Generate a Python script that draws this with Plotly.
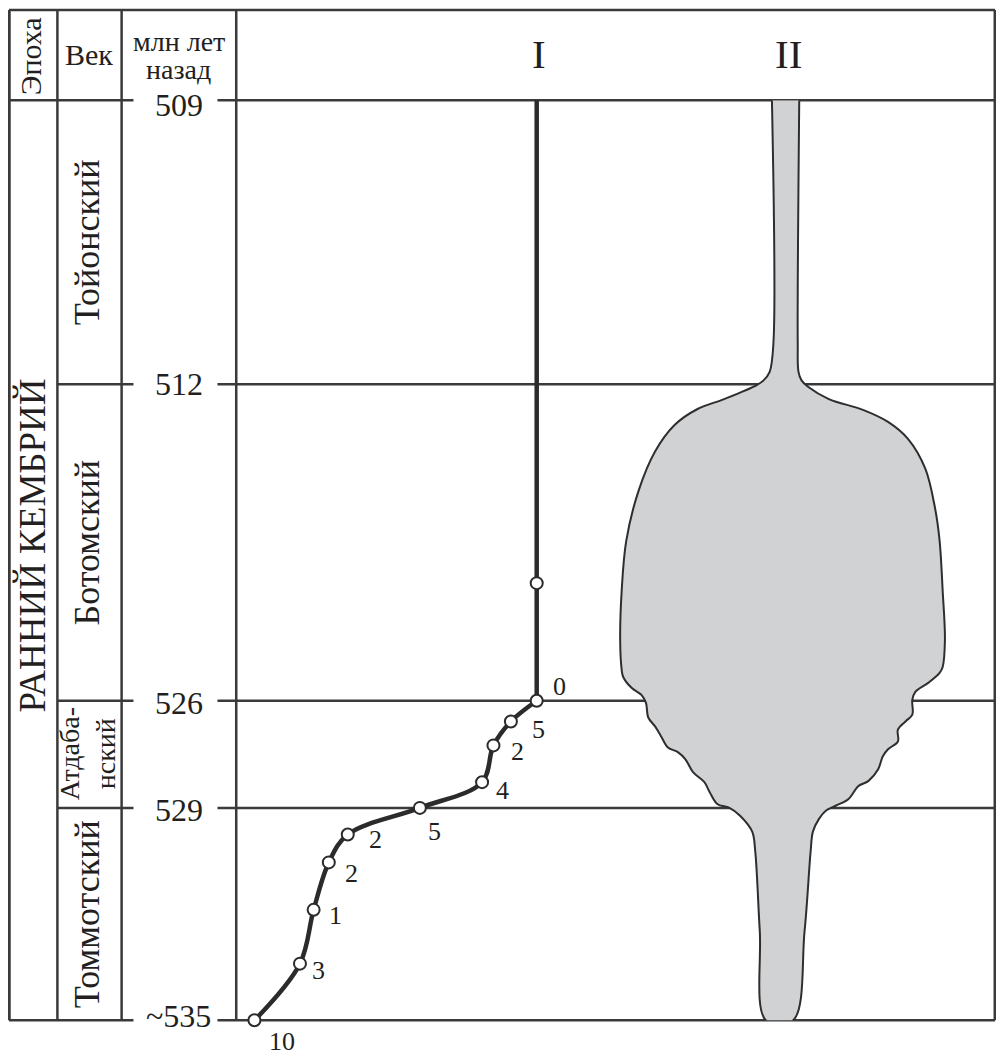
"""Early Cambrian stratigraphic chart: curve I and spindle diagram II."""

import numpy as np
import plotly.graph_objects as go

# --- data -------------------------------------------------------------------
bound_ages = [509, 512, 526, 529, 535]
bound_labels = ["509", "512", "526", "529", "~535"]
stage_names = ["Тойонский", "Ботомский", "Атдаба-<br>нский", "Томмотский"]
epoch_name = "РАННИЙ КЕМБРИЙ"
header_cols = ["Эпоха", "Век", "млн лет", "назад"]
panel_names = ["I", "II"]

# curve I (age, value) with point labels
curve_age = [526.0, 526.58, 527.25, 528.28, 529.0, 529.75, 530.54, 531.88, 533.4, 535.0]
curve_val = [39.6, 36.2, 33.9, 32.4, 24.2, 14.7, 12.2, 10.2, 8.4, 2.4]
curve_labels = ["0", "5", "2", "4", "5", "2", "2", "1", "3", "10"]
stem_age = [509.0, 520.8, 526.0]
stem_val = [39.6, 39.6, 39.6]

# spindle II, left and right outline (age, value)
left_age = [509.0, 511.56, 511.87, 511.96, 512.04, 512.66, 513.10, 513.80, 514.98,
            516.74, 518.93, 521.13, 523.32, 524.64, 524.95, 525.43, 525.74, 526.06,
            526.47, 526.72, 527.0, 527.31, 527.44, 527.64, 528.0, 528.28, 528.56,
            528.89, 529.0, 529.22, 529.67, 530.23, 532.48, 535.0]
left_val = [70.6, 70.8, 70.3, 69.5, 68.6, 64.3, 60.8, 57.8, 55.2,
            53.0, 51.4, 50.8, 50.6, 50.8, 51.0, 52.1, 53.4, 54.0,
            54.3, 55.2, 56.0, 56.9, 58.2, 59.2, 60.2, 61.7, 62.4,
            63.4, 65.0, 66.4, 68.0, 68.4, 69.0, 69.8]
right_age = [509.0, 511.56, 511.87, 511.96, 512.13, 512.66, 513.14, 513.67, 514.41,
             515.73, 517.49, 518.93, 521.13, 523.32, 524.51, 524.77, 525.21, 525.61,
             525.96, 526.39, 526.58, 526.81, 527.14, 527.36, 527.56, 527.92, 528.25,
             528.39, 528.75, 528.94, 529.08, 529.31, 529.67, 530.23, 532.48, 535.0]
right_val = [74.2, 74.0, 74.1, 74.5, 75.4, 78.1, 82.6, 85.9, 88.5,
             90.8, 92.1, 92.7, 93.1, 93.4, 93.1, 92.7, 91.2, 89.5,
             89.1, 89.1, 88.2, 87.2, 87.2, 85.9, 85.2, 84.6, 83.3,
             82.0, 80.7, 79.0, 77.7, 76.8, 76.0, 75.7, 74.9, 73.4]

# --- layout constants ---------------------------------------------------------
# the page puts the figure 8px in from the corner (and keeps 8px on the far
# side), so the drawing is laid out in page pixels and squeezed into 988x1048
W, H = 988, 1048
SX, SY = 0.988, 1048 / 1056
X_LEFT, X_EPOCH, X_STAGE, X_AGE, X_RIGHT = 3, 52, 117, 233, 1001
Y_TOP = 5
STAGE_Y = [96, 382, 701, 809, 1023]  # drawn position of each boundary
LINE = "#3a3a3a"
INK = "#231f20"
FONT = "Liberation Serif"

# offsets of the curve I labels from their points (px, right / down)
label_shift = [(23, -14), (28, 8), (24, 6), (20, 8), (15, 24),
               (28, 5), (23, 11), (22, 6), (19, 7), (28, 21)]


def ypos(ages):
    return np.interp(ages, bound_ages, STAGE_Y)


def fx(x):
    return (x - 2) * SX / W


def fy(y):
    return 1 - (y - 3) * SY / H


def label(x, y, text, size, angle=0, **kw):
    fig.add_annotation(
        x=x, y=y, text=text, textangle=angle, showarrow=False,
        xanchor="center", yanchor="middle",
        font=dict(family=FONT, size=size, color=INK), **kw,
    )


fig = go.Figure()

# spindle II
sp_val = left_val + right_val[::-1]
sp_age = left_age + right_age[::-1]
fig.add_trace(
    go.Scatter(
        x=sp_val,
        y=ypos(sp_age),
        mode="lines",
        fill="toself",
        fillcolor="#d1d2d4",
        line=dict(color="#2e2e2e", width=2, shape="spline", smoothing=1.0),
        hoverinfo="skip",
    )
)

# curve I
fig.add_trace(
    go.Scatter(
        x=stem_val,
        y=ypos(stem_age),
        mode="lines",
        line=dict(color="#2b2b2b", width=4.5),
        hoverinfo="skip",
    )
)
fig.add_trace(
    go.Scatter(
        x=curve_val,
        y=ypos(curve_age),
        mode="lines",
        line=dict(color="#2b2b2b", width=4.5, shape="spline", smoothing=1.0),
        hoverinfo="skip",
    )
)
fig.add_trace(
    go.Scatter(
        x=curve_val + stem_val[1:2],
        y=ypos(curve_age + stem_age[1:2]),
        mode="markers",
        marker=dict(size=12, color="white", line=dict(color="#2b2b2b", width=2)),
        cliponaxis=False,
        hoverinfo="skip",
    )
)

for v, a, t, (dx, dy) in zip(curve_val, curve_age, curve_labels, label_shift):
    label(v, float(ypos(a)), t, 26, xref="x", yref="y", xshift=dx, yshift=-dy)

# frame
shapes = []


def hline(y, x0, x1):
    shapes.append(dict(type="line", xref="paper", yref="paper", layer="below",
                       x0=fx(x0), x1=fx(x1), y0=fy(y), y1=fy(y),
                       line=dict(color=LINE, width=2.5)))


def vline(x, y0, y1, w=2.5):
    shapes.append(dict(type="line", xref="paper", yref="paper", layer="below",
                       x0=fx(x), x1=fx(x), y0=fy(y0), y1=fy(y1),
                       line=dict(color=LINE, width=w)))


hline(Y_TOP, X_LEFT, X_RIGHT)
for i, y in enumerate(STAGE_Y):
    x_start = X_EPOCH if 0 < i < len(STAGE_Y) - 1 else X_LEFT
    hline(y, x_start, 129)
    hline(y, 214, X_RIGHT)
vline(X_LEFT, Y_TOP, STAGE_Y[-1], 3.5)
vline(X_EPOCH, Y_TOP, STAGE_Y[-1])
vline(X_STAGE, Y_TOP, STAGE_Y[-1])
vline(X_AGE, Y_TOP, STAGE_Y[-1])
vline(X_RIGHT, Y_TOP, STAGE_Y[-1], 3)

# age labels
age_shift = [-5, 0, -2, -2, 4]
for a, t, s in zip(bound_ages, bound_labels, age_shift):
    label(fx(175), float(ypos(a)), t, 32, xref="paper", yref="y", yshift=s)

# stage labels
for i, name in enumerate(stage_names):
    mid = (STAGE_Y[i] + STAGE_Y[i + 1]) / 2
    label(fx(82), mid, name, 36 if i != 2 else 28, angle=-90,
          xref="paper", yref="y")

label(fx(27), fy(545), epoch_name, 37, angle=-90, xref="paper", yref="paper")

# header
label(fx(25), fy(52), header_cols[0], 30, angle=-90, xref="paper", yref="paper")
label(fx(84), fy(50), header_cols[1], 30, xref="paper", yref="paper")
label(fx(175), fy(37), header_cols[2], 28, xref="paper", yref="paper")
label(fx(175), fy(65), header_cols[3], 28, xref="paper", yref="paper")
for name, xc in zip(panel_names, [539, 792]):
    label(fx(xc), fy(49), name, 41, xref="paper", yref="paper")

fig.update_layout(
    width=W,
    height=H,
    margin=dict(l=0, r=0, t=0, b=0),
    paper_bgcolor="white",
    plot_bgcolor="white",
    showlegend=False,
    shapes=shapes,
    xaxis=dict(domain=[fx(X_AGE), fx(X_RIGHT)], range=[0, 100], visible=False),
    yaxis=dict(domain=[fy(STAGE_Y[-1]), fy(STAGE_Y[0])],
               range=[STAGE_Y[-1], STAGE_Y[0]], visible=False),
)

fig.write_html("out.html")
